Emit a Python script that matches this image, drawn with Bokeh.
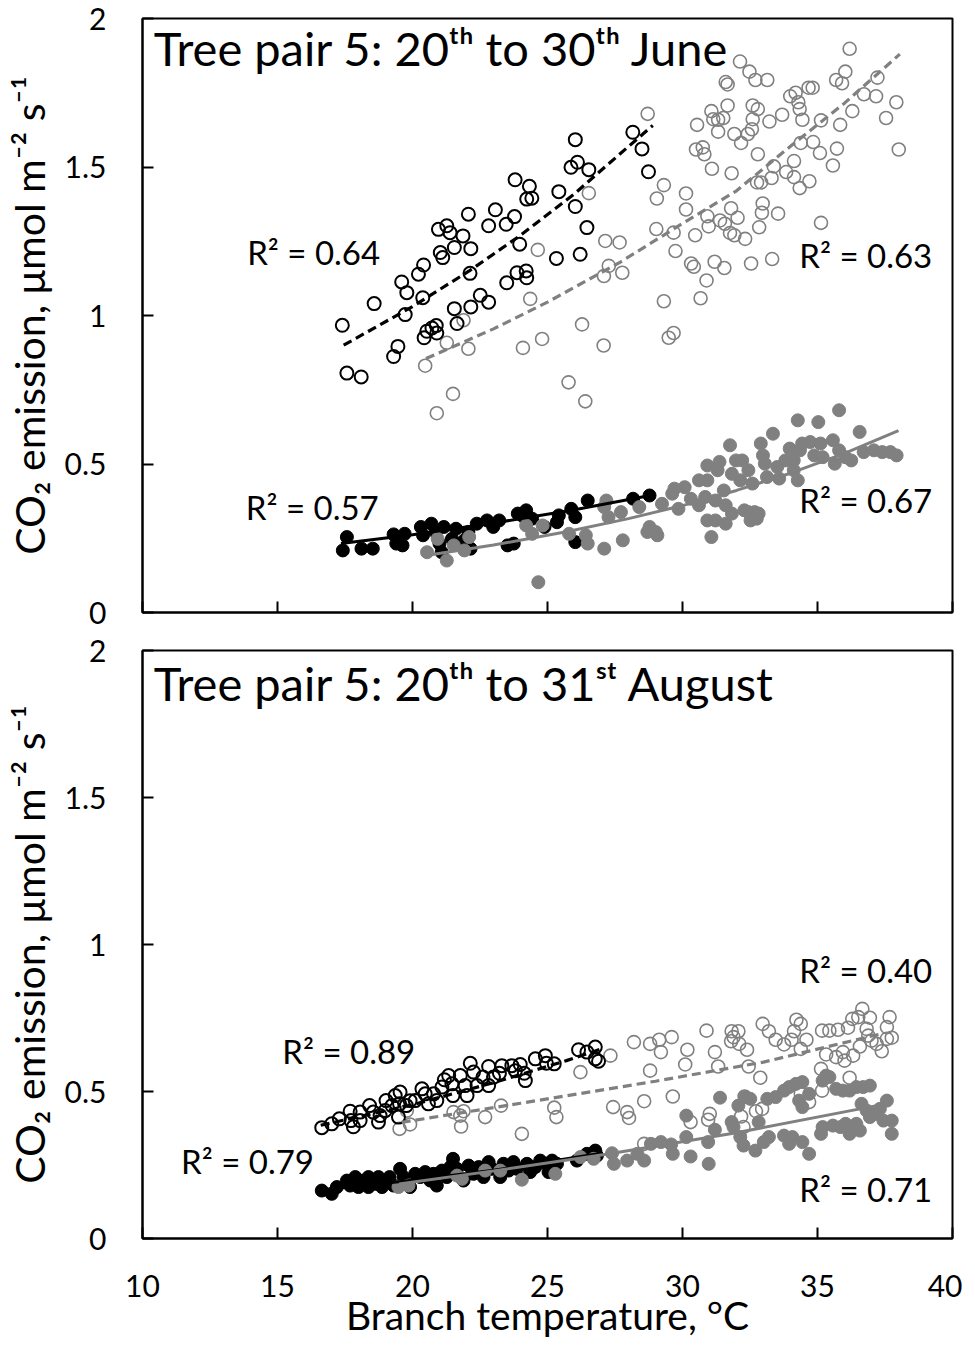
from bokeh.plotting import figure
from bokeh.models import Range1d, FixedTicker
from bokeh.layouts import column
from bokeh.core.properties import value
from bokeh.embed import file_html
from bokeh.resources import INLINE

FONT = "Lato"
GRAY = "#808080"
BLACK = "#000000"

# ---------------- axis ticks ----------------
x_ticks = [10, 15, 20, 25, 30, 35, 40]
x_tick_labels = ["10", "15", "20", "25", "30", "35", "40"]
y_ticks = [0, 0.5, 1, 1.5, 2]
y_tick_labels = ["0", "0.5", "1", "1.5", "2"]

x_title = "Branch temperature, °C"
y_title = "CO₂ emission, μmol m⁻² s⁻¹"

# ================= Panel 1: 20th to 30th June =================
june_title = "Tree pair 5: 20ᵗʰ to 30ᵗʰ June"

# black open circles
june_open_black_x = [17.40, 17.57, 18.10, 18.58, 19.30, 19.46, 19.60, 19.79, 19.73, 20.22,
                     20.41, 20.38, 20.43, 20.53, 20.72, 20.90, 20.88, 20.96, 21.27, 21.39,
                     21.03, 21.12, 21.55, 21.87, 22.16, 22.07, 22.13, 21.55, 21.65, 22.16,
                     22.51, 22.82, 22.82, 23.07, 23.47, 23.78, 23.49, 23.87, 24.23, 24.21,
                     23.80, 24.33, 24.23, 24.42, 23.97, 25.33, 25.42, 26.03, 25.87, 26.11,
                     26.53, 26.03, 26.46, 26.21, 28.16, 28.50, 28.74]
june_open_black_y = [0.967, 0.806, 0.793, 1.04, 0.862, 0.896, 1.113, 1.077, 1.003, 1.139,
                     1.17, 1.06, 0.925, 0.947, 0.958, 0.941, 0.966, 1.29, 1.302, 1.279,
                     1.212, 1.195, 1.229, 1.268, 1.225, 1.341, 1.142, 1.023, 0.973, 1.029,
                     1.068, 1.045, 1.302, 1.356, 1.307, 1.333, 1.11, 1.144, 1.127, 1.15,
                     1.457, 1.435, 1.392, 1.395, 1.24, 1.192, 1.417, 1.592, 1.499, 1.516,
                     1.491, 1.367, 1.296, 1.206, 1.617, 1.561, 1.484]

# grey open circles
june_open_gray_x = [28.71, 29.05, 29.31, 29.03, 29.67, 29.74, 26.53, 27.14, 27.67, 24.64,
                    27.27, 27.09, 27.77, 24.36, 29.31, 21.89, 21.27, 22.07, 20.47, 24.09,
                    24.80, 26.28, 27.08, 29.49, 29.67, 21.50, 20.90, 25.78, 26.40,
                    36.19, 32.13, 32.48, 32.70, 33.14, 31.60, 31.67, 30.54, 31.07, 31.14,
                    31.32, 31.51, 31.32, 31.67, 31.92, 32.17, 32.42, 32.57, 32.60, 32.60,
                    32.79, 33.22, 33.69, 33.99, 34.19, 34.29, 34.34, 34.44, 34.67, 34.82,
                    35.13, 35.69, 35.91, 36.03, 35.84, 36.29, 36.72, 37.17, 37.22, 37.92,
                    37.54, 38.01, 30.50, 30.75, 30.81, 31.09, 31.82, 32.79, 32.76, 32.91,
                    33.30, 33.38, 33.84, 34.13, 34.13, 34.34, 34.70, 34.38, 34.84, 35.09,
                    35.57, 35.72, 35.13, 30.13, 30.13, 30.47, 30.92, 30.97, 31.39, 31.57,
                    31.80, 32.04, 31.76, 31.92, 32.32, 32.84, 32.94, 32.97, 33.54, 30.32,
                    30.42, 31.19, 31.55, 32.54, 33.32, 30.89, 30.67]
june_open_gray_y = [1.679, 1.394, 1.439, 1.291, 1.279, 1.217, 1.412, 1.251, 1.246, 1.221,
                    1.167, 1.133, 1.144, 1.056, 1.048, 0.984, 0.908, 0.888, 0.831, 0.891,
                    0.921, 0.97, 0.899, 0.925, 0.941, 0.736, 0.671, 0.775, 0.711,
                    1.898, 1.855, 1.821, 1.793, 1.793, 1.786, 1.778, 1.642, 1.688, 1.661,
                    1.659, 1.665, 1.619, 1.707, 1.611, 1.581, 1.611, 1.627, 1.661, 1.707,
                    1.695, 1.653, 1.676, 1.738, 1.75, 1.718, 1.695, 1.659, 1.767, 1.767,
                    1.657, 1.793, 1.782, 1.821, 1.642, 1.688, 1.745, 1.738, 1.801, 1.718,
                    1.665, 1.559, 1.559, 1.566, 1.543, 1.494, 1.479, 1.543, 1.448, 1.448,
                    1.463, 1.502, 1.483, 1.52, 1.466, 1.429, 1.452, 1.581, 1.584, 1.547,
                    1.505, 1.562, 1.312, 1.411, 1.357, 1.27, 1.334, 1.3, 1.32, 1.309,
                    1.361, 1.329, 1.278, 1.27, 1.258, 1.297, 1.346, 1.377, 1.343, 1.175,
                    1.164, 1.181, 1.16, 1.175, 1.19, 1.118, 1.058]

# black filled circles
june_fill_black_x = [17.57, 17.42, 18.11, 18.53, 19.30, 19.40, 19.71, 19.63, 20.31, 20.39,
                     20.70, 20.85, 21.00, 21.08, 21.16, 21.46, 21.61, 21.92, 22.15, 22.07,
                     22.38, 22.76, 22.99, 23.21, 23.52, 23.75, 23.90, 24.21, 24.13, 24.43,
                     24.89, 25.42, 25.35, 25.88, 26.03, 26.49, 26.03, 28.17, 28.78]
june_fill_black_y = [0.254, 0.209, 0.215, 0.215, 0.263, 0.232, 0.265, 0.226, 0.288, 0.26,
                     0.299, 0.271, 0.232, 0.203, 0.288, 0.248, 0.282, 0.243, 0.215, 0.271,
                     0.299, 0.31, 0.288, 0.31, 0.226, 0.232, 0.333, 0.344, 0.321, 0.316,
                     0.288, 0.327, 0.304, 0.349, 0.321, 0.377, 0.237, 0.383, 0.394]

# grey filled circles
june_fill_gray_x = [20.54, 20.93, 21.27, 21.53, 21.92, 22.10, 24.21, 24.82, 24.66, 24.43,
                    25.80, 26.42, 26.49, 27.10, 27.18, 27.10, 27.26, 27.72, 27.79, 28.40,
                    28.70, 29.07, 28.78, 29.24, 29.70, 29.85, 30.08, 30.31, 30.61, 30.84,
                    30.92, 31.07, 31.37, 30.92, 31.22, 31.53, 31.60, 31.76, 31.83, 31.83,
                    32.14, 32.21, 32.29, 32.44, 32.59, 32.67, 32.75, 32.90, 32.98, 33.05,
                    33.13, 33.35, 33.51, 33.58, 33.81, 33.97, 34.12, 34.12, 34.27, 34.27,
                    34.35, 34.43, 34.73, 34.88, 35.03, 35.11, 35.19, 35.57, 35.64, 35.80,
                    35.80, 36.03, 36.25, 36.56, 36.71, 37.09, 37.40, 37.70, 37.93, 32.44,
                    32.52, 32.82, 30.92, 31.22, 31.60, 29.01, 29.62, 30.61, 31.30, 31.98]
june_fill_gray_y = [0.203, 0.248, 0.175, 0.226, 0.209, 0.254, 0.293, 0.293, 0.102, 0.265,
                    0.265, 0.26, 0.232, 0.215, 0.377, 0.355, 0.321, 0.338, 0.243, 0.355,
                    0.271, 0.26, 0.288, 0.366, 0.417, 0.349, 0.422, 0.383, 0.361, 0.389,
                    0.445, 0.254, 0.507, 0.495, 0.377, 0.411, 0.361, 0.563, 0.467, 0.333,
                    0.445, 0.512, 0.344, 0.479, 0.434, 0.338, 0.316, 0.569, 0.529, 0.501,
                    0.456, 0.602, 0.49, 0.451, 0.512, 0.552, 0.512, 0.479, 0.647, 0.445,
                    0.546, 0.569, 0.574, 0.529, 0.641, 0.569, 0.523, 0.58, 0.501, 0.681,
                    0.546, 0.523, 0.512, 0.608, 0.54, 0.546, 0.54, 0.54, 0.529, 0.338,
                    0.31, 0.333, 0.31, 0.31, 0.299, 0.271, 0.4, 0.445, 0.479, 0.512]

# trend lines
june_trend_open_black_x = [17.45, 20.0, 22.1, 24.0, 26.0, 27.0, 28.9]
june_trend_open_black_y = [0.90, 1.03, 1.15, 1.27, 1.41, 1.49, 1.64]
june_trend_open_gray_x = [20.5, 23.0, 25.0, 27.7, 30.0, 32.0, 34.0, 36.0, 38.05]
june_trend_open_gray_y = [0.855, 0.955, 1.045, 1.18, 1.31, 1.42, 1.57, 1.715, 1.88]
june_trend_fill_black_x = [17.35, 20.0, 23.0, 26.0, 28.8]
june_trend_fill_black_y = [0.232, 0.262, 0.301, 0.346, 0.394]
june_trend_fill_gray_x = [20.5, 23.0, 25.7, 28.0, 30.0, 32.0, 34.0, 36.0, 38.0]
june_trend_fill_gray_y = [0.192, 0.227, 0.272, 0.316, 0.36, 0.411, 0.469, 0.536, 0.612]

june_r2_text = ["R² = 0.64", "R² = 0.63", "R² = 0.57", "R² = 0.67"]

# ================= Panel 2: 20th to 31st August =================
aug_title = "Tree pair 5: 20ᵗʰ to 31ˢᵗ August"

aug_open_black_x = [16.64, 17.01, 17.29, 17.69, 17.72, 17.81, 18.06, 18.06, 18.41, 18.55,
                    18.74, 18.80, 18.99, 19.02, 19.24, 19.36, 19.54, 19.48, 19.52, 19.77,
                    19.91, 20.10, 20.35, 20.47, 20.59, 20.78, 20.90, 21.09, 21.18, 21.34,
                    21.46, 21.50, 21.77, 21.95, 22.02, 22.14, 22.26, 22.39, 22.61, 22.82,
                    22.82, 23.00, 23.22, 23.31, 23.68, 23.81, 23.99, 24.14, 24.18, 24.55,
                    24.92, 24.96, 25.25, 26.15, 26.46, 26.77, 26.77, 26.89]
aug_open_black_y = [0.377, 0.39, 0.407, 0.433, 0.401, 0.38, 0.43, 0.401, 0.452, 0.43,
                    0.396, 0.418, 0.435, 0.469, 0.452, 0.486, 0.498, 0.413, 0.458, 0.452,
                    0.469, 0.469, 0.509, 0.492, 0.458, 0.492, 0.469, 0.515, 0.54, 0.554,
                    0.526, 0.486, 0.554, 0.52, 0.486, 0.596, 0.566, 0.52, 0.549, 0.585,
                    0.52, 0.549, 0.562, 0.588, 0.588, 0.571, 0.592, 0.562, 0.537, 0.611,
                    0.622, 0.596, 0.594, 0.642, 0.634, 0.651, 0.611, 0.603]

aug_open_gray_x = [19.52, 19.91, 19.79, 21.52, 21.77, 21.80, 21.89, 22.69, 23.28, 24.05,
                   25.25, 25.33, 26.22,
                   27.33, 28.20, 28.80, 29.14, 29.20, 29.60, 28.80, 30.18, 30.10, 30.89,
                   31.20, 31.32, 31.82, 31.89, 32.07, 31.80, 32.10, 32.39, 32.45, 32.88,
                   32.97, 33.20, 33.45, 33.76, 34.13, 34.22, 34.38, 34.04, 34.59, 34.38,
                   35.17, 35.44, 35.76, 36.13, 36.29, 36.66, 36.51, 36.94, 36.82, 36.88,
                   37.00, 37.19, 37.57, 37.67, 37.57, 37.75, 37.38, 36.57, 36.32, 35.94,
                   36.00, 35.69, 35.32, 35.13, 35.17, 36.19, 34.69, 34.38, 32.95, 32.72,
                   32.30, 32.17, 32.26, 31.01, 30.95, 30.30, 29.64, 28.58, 27.43, 27.95,
                   28.02, 28.58]
aug_open_gray_y = [0.373, 0.388, 0.435, 0.43, 0.418, 0.381, 0.433, 0.413, 0.452, 0.356,
                   0.445, 0.413, 0.566,
                   0.622, 0.668, 0.662, 0.676, 0.634, 0.685, 0.571, 0.642, 0.592, 0.707,
                   0.634, 0.585, 0.705, 0.685, 0.705, 0.671, 0.662, 0.642, 0.585, 0.547,
                   0.73, 0.705, 0.676, 0.66, 0.705, 0.744, 0.73, 0.676, 0.676, 0.645,
                   0.707, 0.707, 0.71, 0.717, 0.747, 0.781, 0.753, 0.751, 0.713, 0.69,
                   0.673, 0.662, 0.719, 0.753, 0.679, 0.683, 0.637, 0.653, 0.622, 0.634,
                   0.605, 0.617, 0.626, 0.577, 0.503, 0.547, 0.464, 0.492, 0.441, 0.433,
                   0.483, 0.415, 0.379, 0.424, 0.404, 0.396, 0.483, 0.467, 0.447, 0.43,
                   0.41, 0.322]

aug_fill_black_x = [16.64, 17.01, 17.20, 17.57, 17.69, 17.88, 18.00, 18.18, 18.37, 18.37,
                    18.62, 18.74, 18.87, 19.07, 19.15, 19.30, 19.54, 19.67, 19.91, 20.10,
                    20.29, 20.47, 20.66, 20.78, 20.90, 21.09, 21.27, 21.50, 21.40, 21.65,
                    21.89, 22.08, 22.26, 22.45, 22.63, 22.82, 22.94, 23.25, 23.37, 23.56,
                    23.74, 23.87, 24.24, 24.36, 24.55, 24.73, 24.98, 25.17, 25.35, 25.04,
                    26.09, 26.46, 26.77, 26.83]
aug_fill_black_y = [0.163, 0.152, 0.175, 0.197, 0.18, 0.209, 0.175, 0.197, 0.209, 0.175,
                    0.186, 0.209, 0.175, 0.192, 0.209, 0.18, 0.237, 0.209, 0.175, 0.22,
                    0.209, 0.226, 0.197, 0.22, 0.18, 0.231, 0.209, 0.271, 0.243, 0.237,
                    0.197, 0.248, 0.22, 0.243, 0.209, 0.26, 0.237, 0.209, 0.254, 0.231,
                    0.26, 0.237, 0.254, 0.226, 0.243, 0.265, 0.254, 0.265, 0.254, 0.226,
                    0.265, 0.288, 0.299, 0.282]

aug_fill_gray_x = [19.48, 19.85, 21.65, 21.83, 22.69, 23.25, 24.05, 25.29, 26.22, 26.71,
                   27.39, 27.46, 27.95, 28.33, 28.58, 28.83, 29.20, 29.58, 29.64, 30.14,
                   30.30, 30.14, 30.95, 30.97, 31.20, 31.39, 31.82, 31.89, 32.14, 32.26,
                   32.70, 33.01, 32.82, 32.07, 32.32, 32.51, 33.14, 33.45, 33.76, 33.95,
                   34.20, 34.44, 34.32, 34.44, 34.69, 33.76, 34.07, 33.95, 34.44, 34.69,
                   35.19, 35.32, 35.44, 35.19, 35.13, 35.57, 35.69, 35.94, 36.19, 36.44,
                   36.69, 36.94, 35.85, 36.04, 36.19, 36.44, 36.63, 36.82, 36.94, 37.19,
                   37.57, 37.31, 37.44, 37.75, 37.75, 36.57, 33.20]
aug_fill_gray_y = [0.175, 0.18, 0.214, 0.203, 0.231, 0.231, 0.2, 0.22, 0.277, 0.271,
                   0.29, 0.254, 0.265, 0.288, 0.265, 0.322, 0.328, 0.32, 0.288, 0.345,
                   0.279, 0.418, 0.328, 0.254, 0.37, 0.479, 0.396, 0.379, 0.345, 0.316,
                   0.299, 0.328, 0.396, 0.452, 0.481, 0.475, 0.475, 0.481, 0.503, 0.515,
                   0.526, 0.532, 0.469, 0.447, 0.492, 0.35, 0.345, 0.322, 0.328, 0.288,
                   0.537, 0.554, 0.549, 0.379, 0.356, 0.384, 0.509, 0.503, 0.503, 0.515,
                   0.515, 0.52, 0.379, 0.39, 0.356, 0.39, 0.458, 0.435, 0.413, 0.424,
                   0.469, 0.441, 0.401, 0.401, 0.356, 0.367, 0.345]

aug_trend_open_black_x = [16.6, 20.0, 23.0, 25.7, 27.0]
aug_trend_open_black_y = [0.385, 0.455, 0.53, 0.605, 0.645]
aug_trend_open_gray_x = [19.6, 24.0, 29.0, 33.0, 37.3]
aug_trend_open_gray_y = [0.395, 0.46, 0.535, 0.6, 0.695]
aug_trend_fill_black_x = [16.6, 20.0, 23.0, 27.0]
aug_trend_fill_black_y = [0.165, 0.198, 0.232, 0.29]
aug_trend_fill_gray_x = [19.5, 23.0, 27.3, 32.0, 37.2]
aug_trend_fill_gray_y = [0.185, 0.23, 0.288, 0.36, 0.452]

aug_r2_text = ["R² = 0.89", "R² = 0.40", "R² = 0.79", "R² = 0.71"]

# label placement (layout only)
june_r2_pos = [(18.80, 1.213, "right"), (39.25, 1.205, "right"),
               (18.75, 0.355, "right"), (39.25, 0.378, "right")]
aug_r2_pos = [(20.10, 0.639, "right"), (39.25, 0.912, "right"),
              (16.35, 0.265, "right"), (39.25, 0.170, "right")]


def make_panel(title, ob, og, fb, fg, t_ob, t_og, t_fb, t_fg, r2_texts, r2_pos,
               height, top, bottom, show_x, title_y):
    p = figure(width=962, height=height, x_range=Range1d(10, 40), y_range=Range1d(0, 2),
               output_backend="svg", toolbar_location=None,
               min_border_left=142, min_border_right=10,
               min_border_top=top, min_border_bottom=bottom)
    p.background_fill_color = "white"
    p.border_fill_color = "white"
    p.outline_line_color = "black"
    p.outline_line_width = 2
    p.outline_line_alpha = 1
    p.xgrid.visible = False
    p.ygrid.visible = False

    for ax in (p.xaxis[0], p.yaxis[0]):
        ax.axis_line_width = 2
        ax.axis_line_color = "black"
        ax.major_tick_line_width = 2
        ax.major_tick_line_color = "black"
        ax.major_tick_in = 11
        ax.major_tick_out = 0
        ax.minor_tick_line_color = None
        ax.major_label_text_font = FONT
        ax.major_label_text_font_size = "30px"
        ax.major_label_text_color = "black"
        ax.axis_label_text_font = FONT
        ax.axis_label_text_font_style = "normal"
        ax.axis_label_text_color = "black"

    p.xaxis.axis_label_text_font_size = "39px"
    p.yaxis.axis_label_text_font_size = "41px"
    p.xaxis.ticker = FixedTicker(ticks=x_ticks)
    p.xaxis.major_label_overrides = {t: l for t, l in zip(x_ticks, x_tick_labels)}
    p.yaxis.ticker = FixedTicker(ticks=y_ticks)
    p.yaxis.major_label_overrides = {t: l for t, l in zip(y_ticks, y_tick_labels)}
    p.yaxis.major_label_standoff = 36
    p.yaxis.axis_label = y_title
    p.yaxis.axis_label_standoff = 8

    if show_x:
        p.xaxis.axis_label = x_title
        p.xaxis.major_label_standoff = 36
        p.xaxis.axis_label_standoff = -8
    else:
        p.xaxis.major_label_text_font_size = "1px"
        p.xaxis.major_label_text_alpha = 0
        p.xaxis.major_label_standoff = 0

    # markers
    p.scatter(og[0], og[1], size=13, marker="circle", fill_color=None,
              line_color=GRAY, line_width=1.6)
    p.scatter(ob[0], ob[1], size=13, marker="circle", fill_color=None,
              line_color=BLACK, line_width=2)
    p.scatter(fb[0], fb[1], size=13, marker="circle", fill_color=BLACK,
              line_color=BLACK, line_width=1)
    p.scatter(fg[0], fg[1], size=13, marker="circle", fill_color=GRAY,
              line_color=GRAY, line_width=1)

    # trend lines
    p.line(t_ob[0], t_ob[1], line_color=BLACK, line_width=3.2, line_dash="9 5")
    p.line(t_og[0], t_og[1], line_color=GRAY, line_width=3.2, line_dash="9 5")
    p.line(t_fb[0], t_fb[1], line_color=BLACK, line_width=3)
    p.line(t_fg[0], t_fg[1], line_color=GRAY, line_width=3)

    # R² annotations
    for txt, (xx, yy, al) in zip(r2_texts, r2_pos):
        p.text(x=[xx], y=[yy], text=[txt], text_font=value(FONT),
               text_font_size=value("33px"), text_color="black",
               text_align=al, text_baseline="middle")

    # panel title
    p.text(x=[10.42], y=[title_y], text=[title], text_font=value(FONT),
           text_font_size=value("47px"), text_color="black",
           text_align="left", text_baseline="middle")
    return p


p1 = make_panel(june_title,
                (june_open_black_x, june_open_black_y),
                (june_open_gray_x, june_open_gray_y),
                (june_fill_black_x, june_fill_black_y),
                (june_fill_gray_x, june_fill_gray_y),
                (june_trend_open_black_x, june_trend_open_black_y),
                (june_trend_open_gray_x, june_trend_open_gray_y),
                (june_trend_fill_black_x, june_trend_fill_black_y),
                (june_trend_fill_gray_x, june_trend_fill_gray_y),
                june_r2_text, june_r2_pos,
                height=632, top=18, bottom=20, show_x=False, title_y=1.90)

p2 = make_panel(aug_title,
                (aug_open_black_x, aug_open_black_y),
                (aug_open_gray_x, aug_open_gray_y),
                (aug_fill_black_x, aug_fill_black_y),
                (aug_fill_gray_x, aug_fill_gray_y),
                (aug_trend_open_black_x, aug_trend_open_black_y),
                (aug_trend_open_gray_x, aug_trend_open_gray_y),
                (aug_trend_fill_black_x, aug_trend_fill_black_y),
                (aug_trend_fill_gray_x, aug_trend_fill_gray_y),
                aug_r2_text, aug_r2_pos,
                height=716, top=18, bottom=110, show_x=True, title_y=1.89)

layout = column(p1, p2, spacing=0)

with open("out.html", "w") as f:
    f.write(file_html(layout, INLINE))
